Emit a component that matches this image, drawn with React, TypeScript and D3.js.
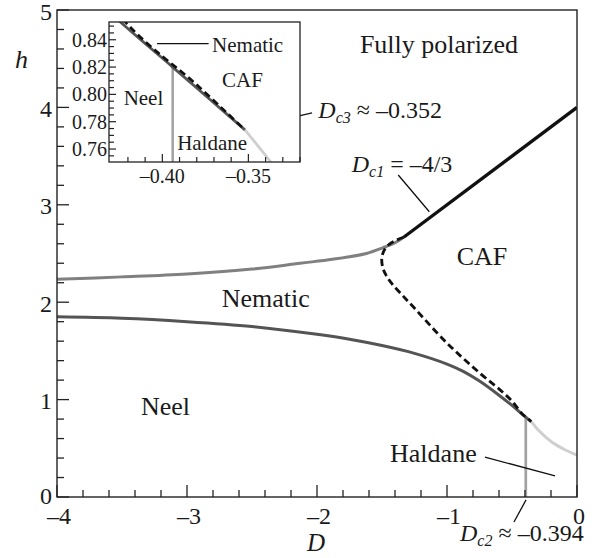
import React from 'react';
import * as d3 from 'd3';

// phase boundaries (D, h)
const upperD = [-4, -3.5, -3, -2.5, -2.13, -1.88, -1.62, -1.49, -1.4, -4 / 3];
const upperH = [2.235, 2.26, 2.29, 2.34, 2.4, 2.44, 2.5, 2.56, 2.61, 2.667];

const lowerD = [-4, -3.5, -3, -2.5, -2, -1.75, -1.5, -1.25, -1, -0.875, -0.75, -0.6, -0.5, -0.4244, -0.394, -0.352];
const lowerH = [1.85, 1.835, 1.8, 1.75, 1.67, 1.62, 1.555, 1.475, 1.365, 1.29, 1.19, 1.045, 0.94, 0.853, 0.82, 0.774];

const dashD = [-4 / 3, -1.4, -1.465, -1.5, -1.495, -1.47, -1.43, -1.37, -1.258, -1, -0.746, -0.592, -0.5, -0.4215, -0.38, -0.352];
const dashH = [2.667, 2.63, 2.57, 2.47, 2.36, 2.28, 2.2, 2.11, 1.95, 1.58, 1.27, 1.1, 0.985, 0.853, 0.807, 0.774];

const fpD = [-4 / 3, 0];
const fpH = [8 / 3, 4];

const haldD = [-0.352, -0.337, -0.3, -0.2, -0.1, 0];
const haldH = [0.774, 0.7505, 0.69, 0.57, 0.49, 0.43];

const dc2D = [-0.394, -0.394];
const dc2H = [0, 0.82];

const xTickLabels = [-4, -3, -2, -1, 0];
const yTickLabels = [0, 1, 2, 3, 4, 5];
const insetXLabels = [-0.4, -0.35];
const insetYLabels = [0.76, 0.78, 0.8, 0.82, 0.84];

const FONT = '"Liberation Serif", "Times New Roman", serif';
const INK = '#1a1a1a';

const zip = (a: number[], b: number[]) => a.map((v, i) => [v, b[i]] as [number, number]);
const fmt = (v: number, digits = 0) => (v < 0 ? '\u2013' : '') + Math.abs(v).toFixed(digits);

export default function App() {
  const x = d3.scaleLinear().domain([-4, 0]).range([57, 577]);
  const y = d3.scaleLinear().domain([0, 5]).range([497, 10]);
  const xi = d3.scaleLinear().domain([-0.431, -0.32]).range([109, 300]);
  const yi = d3.scaleLinear().domain([0.7505, 0.853]).range([162, 22]);

  const path = (sx: any, sy: any, pts: [number, number][], c: any = d3.curveCatmullRom.alpha(0.5)) =>
    d3.line<[number, number]>().x(p => sx(p[0])).y(p => sy(p[1])).curve(c)(pts) || '';

  const curves = (sx: any, sy: any, w: number) => (
    <g fill="none" strokeLinecap="butt">
      <path d={path(sx, sy, zip(upperD, upperH))} stroke="#808080" strokeWidth={w} />
      <path d={path(sx, sy, zip(haldD, haldH))} stroke="#cfcfcf" strokeWidth={w} />
      <path d={path(sx, sy, zip(dc2D, dc2H), d3.curveLinear)} stroke="#a2a2a2" strokeWidth={w * 0.9} />
      <path d={path(sx, sy, zip(lowerD, lowerH))} stroke="#545454" strokeWidth={w} />
      <path d={path(sx, sy, zip(fpD, fpH), d3.curveLinear)} stroke="#111" strokeWidth={w * 1.1} />
      <path d={path(sx, sy, zip(dashD, dashH))} stroke="#111" strokeWidth={w * 0.95} strokeDasharray="7,4" />
    </g>
  );

  const xTicks = d3.range(-4, 0.0001, 0.2);
  const yTicks = d3.range(0, 5.0001, 0.2);
  const ixTicks = d3.range(-0.42, -0.3199, 0.01);
  const iyTicks = d3.range(0.755, 0.8531, 0.005);
  const isMajor = (v: number, step: number) => Math.abs(v / step - Math.round(v / step)) < 1e-6;

  const sub = (s: string) => (
    <tspan fontStyle="italic" fontSize={16} dy={5}>{s}</tspan>
  );

  return (
    <svg width={595} height={558} style={{ position: 'absolute', left: 0, top: 0, background: 'white' }}
      fontFamily={FONT} fill={INK}>
      <defs>
        <clipPath id="mainClip">
          <rect x={x(-4)} y={y(5)} width={x(0) - x(-4)} height={y(0) - y(5)} />
        </clipPath>
        <clipPath id="insetClip">
          <rect x={xi.range()[0]} y={yi.range()[1]} width={xi.range()[1] - xi.range()[0]} height={yi.range()[0] - yi.range()[1]} />
        </clipPath>
      </defs>

      {/* main curves */}
      <g clipPath="url(#mainClip)">{curves(x, y, 3)}</g>

      {/* main frame and ticks */}
      <rect x={x(-4)} y={y(5)} width={x(0) - x(-4)} height={y(0) - y(5)} fill="none" stroke="#222" strokeWidth={1.4} />
      <g stroke="#222" strokeWidth={1.3}>
        {xTicks.map(t => (
          <line key={'x' + t} x1={x(t)} x2={x(t)} y1={y(0)} y2={y(0) - (isMajor(t, 1) ? 12 : 7)} />
        ))}
        {yTicks.map(t => (
          <line key={'y' + t} x1={x(-4)} x2={x(-4) + (isMajor(t, 1) ? 12 : 7)} y1={y(t)} y2={y(t)} />
        ))}
      </g>
      <g fontSize={24}>
        {xTickLabels.map(t => (
          <text key={'xl' + t} x={x(t) + 2} y={524} textAnchor="middle">{fmt(t)}</text>
        ))}
        {yTickLabels.map(t => (
          <text key={'yl' + t} x={x(-4) - 5} y={y(t) + (t === 0 ? -1 : 1.5)} textAnchor="end" dominantBaseline="central">{fmt(t)}</text>
        ))}
      </g>
      <text x={316} y={551} fontSize={25} fontStyle="italic" textAnchor="middle">D</text>
      <text x={15} y={68} fontSize={26} fontStyle="italic">h</text>

      {/* region labels */}
      <g fontSize={26}>
        <text x={x(-1.67)} y={y(4.56)}>Fully polarized</text>
        <text x={x(-0.925)} y={y(2.38)}>CAF</text>
        <text x={x(-2.733)} y={y(1.95)}>Nematic</text>
        <text x={x(-3.354)} y={y(0.84)}>Neel</text>
        <text x={x(-1.438)} y={y(0.36)}>Haldane</text>
      </g>

      {/* annotations */}
      <g stroke="#111" strokeWidth={1.3}>
        <line x1={x(-0.708)} y1={y(0.41)} x2={x(-0.169)} y2={y(0.216)} />
        <line x1={x(-0.392)} y1={y(-0.03)} x2={x(-0.485)} y2={y(-0.257)} />
        <line x1={x(-1.375)} y1={y(3.306)} x2={x(-1.136)} y2={y(2.929)} />
        <line x1={x(-2.538)} y1={y(3.789)} x2={x(-2.038)} y2={y(3.943)} />
      </g>
      <g fontSize={24}>
        <text x={x(-0.9)} y={y(-0.455)}>
          <tspan fontStyle="italic">D</tspan>{sub('c2')}<tspan dy={-5}> {'\u2248'} {'\u2013'}0.394</tspan>
        </text>
        <text x={x(-1.733)} y={y(3.34)}>
          <tspan fontStyle="italic">D</tspan>{sub('c1')}<tspan dy={-5}> = {'\u2013'}4/3</tspan>
        </text>
        <text x={x(-1.99)} y={y(3.89)}>
          <tspan fontStyle="italic">D</tspan>{sub('c3')}<tspan dy={-5}> {'\u2248'} {'\u2013'}0.352</tspan>
        </text>
      </g>

      {/* inset */}
      <rect x={xi.range()[0]} y={yi.range()[1]} width={xi.range()[1] - xi.range()[0]} height={yi.range()[0] - yi.range()[1]}
        fill="white" />
      <g clipPath="url(#insetClip)">{curves(xi, yi, 2.8)}</g>
      <rect x={xi.range()[0]} y={yi.range()[1]} width={xi.range()[1] - xi.range()[0]} height={yi.range()[0] - yi.range()[1]}
        fill="none" stroke="#222" strokeWidth={1.3} />
      <g stroke="#222" strokeWidth={1.2}>
        {ixTicks.map(t => (
          <line key={'ix' + t} x1={xi(t)} x2={xi(t)} y1={yi.range()[0]} y2={yi.range()[0] - (isMajor(t, 0.05) ? 8 : 5)} />
        ))}
        {iyTicks.map(t => (
          <line key={'iy' + t} x1={xi.range()[0]} x2={xi.range()[0] + (isMajor(t, 0.02) ? 7 : 5)} y1={yi(t)} y2={yi(t)} />
        ))}
      </g>
      <g fontSize={20}>
        {insetXLabels.map(t => (
          <text key={'ixl' + t} x={xi(t)} y={183} textAnchor="middle">{fmt(t, 2)}</text>
        ))}
        {insetYLabels.map(t => (
          <text key={'iyl' + t} x={xi.range()[0] - 2} y={yi(t)} textAnchor="end" dominantBaseline="central">{fmt(t, 2)}</text>
        ))}
      </g>
      <line x1={xi(-0.4031)} y1={yi(0.8372)} x2={xi(-0.3731)} y2={yi(0.8372)} stroke="#111" strokeWidth={1.2} />
      <g fontSize={21}>
        <text x={xi(-0.3711)} y={yi(0.8311)}>Nematic</text>
        <text x={xi(-0.3653)} y={yi(0.8055)}>CAF</text>
        <text x={xi(-0.4225)} y={yi(0.7922)}>Neel</text>
        <text x={xi(-0.3914)} y={yi(0.7593)}>Haldane</text>
      </g>
    </svg>
  );
}
